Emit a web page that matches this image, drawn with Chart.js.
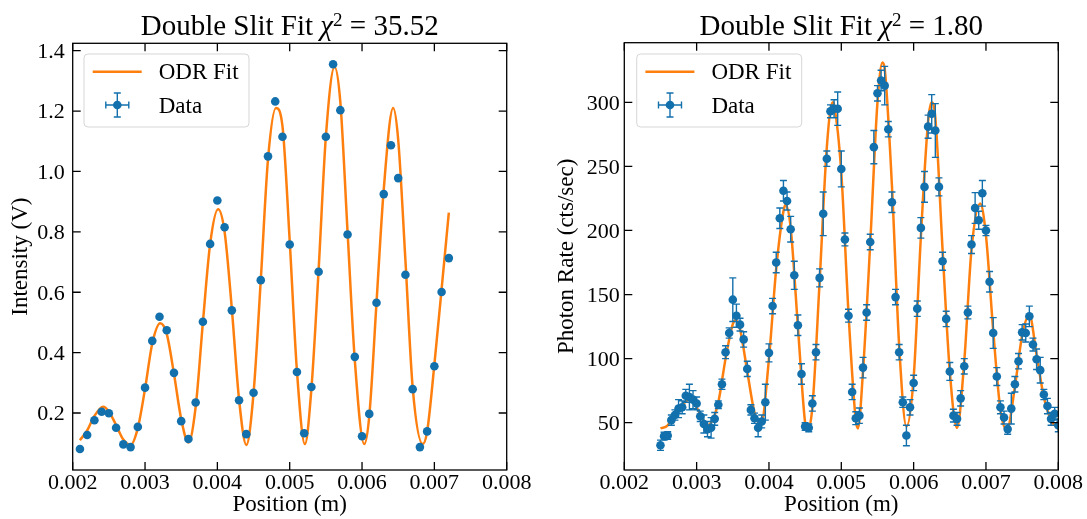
<!DOCTYPE html>
<html>
<head>
<meta charset="utf-8">
<script src="https://cdn.jsdelivr.net/npm/chart.js@4.4.1/dist/chart.umd.min.js"></script>
<style>
  html, body { margin: 0; padding: 0; background: #fff; }
  #wrap { position: relative; width: 1087px; height: 519px; }
  canvas { position: absolute; top: 0; }
</style>
</head>
<body>
<div id="wrap">
  <canvas id="leftChart" width="543" height="519" style="left:0px"></canvas>
  <canvas id="rightChart" width="544" height="519" style="left:543px"></canvas>
</div>
<script>
// ---- data ----
// left panel: intensity vs position
var leftX = [0.0021,0.0022,0.0023,0.0024,0.0025,0.0026,0.0027,0.0028,0.0029,0.0030,
  0.0031,0.0032,0.0033,0.0034,0.0035,0.0036,0.0037,0.0038,0.0039,0.0040,
  0.0041,0.0042,0.0043,0.0044,0.0045,0.0046,0.0047,0.0048,0.0049,0.0050,
  0.0051,0.0052,0.0053,0.0054,0.0055,0.0056,0.0057,0.0058,0.0059,0.0060,
  0.0061,0.0062,0.0063,0.0064,0.0065,0.0066,0.0067,0.0068,0.0069,0.0070,
  0.0071,0.0072];
var leftY = [0.081,0.127,0.176,0.204,0.199,0.151,0.096,0.087,0.154,0.284,
  0.439,0.519,0.474,0.333,0.173,0.114,0.235,0.502,0.760,0.904,
  0.815,0.540,0.242,0.130,0.267,0.640,1.050,1.232,1.115,0.758,
  0.336,0.133,0.286,0.668,1.115,1.355,1.203,0.791,0.386,0.123,
  0.197,0.565,0.925,1.087,0.978,0.658,0.279,0.087,0.139,0.355,
  0.601,0.713];
var leftFitX = [0.0021,0.0022,0.0023,0.00242,0.0025,0.0026,0.0027,0.0028,0.0029,0.0030,
  0.0031,0.00321,0.0033,0.0034,0.0035,0.0036,0.0037,0.0038,0.0039,0.00401,
  0.0041,0.0042,0.0043,0.0044,0.0045,0.0046,0.0047,0.00481,0.0049,0.0050,
  0.0051,0.00521,0.0053,0.0054,0.0055,0.00562,0.0057,0.0058,0.0059,0.00603,
  0.0061,0.0062,0.0063,0.00643,0.0065,0.0066,0.0067,0.00684,0.0069,0.0070,
  0.0071,0.0072];
var leftFitY = [0.110,0.142,0.190,0.221,0.205,0.160,0.112,0.094,0.150,0.280,
  0.430,0.497,0.462,0.330,0.180,0.102,0.220,0.500,0.760,0.875,
  0.800,0.545,0.245,0.094,0.265,0.640,1.040,1.210,1.150,0.770,
  0.340,0.097,0.280,0.675,1.115,1.346,1.230,0.800,0.375,0.097,
  0.190,0.565,0.940,1.210,1.105,0.705,0.285,0.097,0.139,0.360,
  0.610,0.864];

// right panel: photon rate vs position
var rightX = [0.00250,0.00255,0.00260,0.00265,0.00270,0.00275,0.00280,0.00285,0.00290,0.00295,
  0.00300,0.00305,0.00310,0.00315,0.00320,0.00325,0.00330,0.00335,0.00340,0.00345,
  0.00350,0.00355,0.00360,0.00365,0.00370,0.00375,0.00380,0.00385,0.00390,0.00395,
  0.00400,0.00405,0.00410,0.00415,0.00420,0.00425,0.00430,0.00435,0.00440,0.00445,
  0.00450,0.00455,0.00460,0.00465,0.00470,0.00475,0.00480,0.00485,0.00490,0.00495,
  0.00500,0.00505,0.00510,0.00515,0.00520,0.00525,0.00530,0.00535,0.00540,0.00545,
  0.00550,0.00555,0.00560,0.00565,0.00570,0.00575,0.00580,0.00585,0.00590,0.00595,
  0.00600,0.00605,0.00610,0.00615,0.00620,0.00625,0.00630,0.00635,0.00640,0.00645,
  0.00650,0.00655,0.00660,0.00665,0.00670,0.00675,0.00680,0.00685,0.00690,0.00695,
  0.00700,0.00705,0.00710,0.00715,0.00720,0.00725,0.00730,0.00735,0.00740,0.00745,
  0.00750,0.00755,0.00760,0.00765,0.00770,0.00775,0.00780,0.00785,0.00790,0.00795,
  0.00800];
var rightY = [32.4,39.5,40,52,56,61,62,71,70,68,
  65,55,49,45,46,53,64,80,105,120,
  146,133.5,126.5,115,92,60,53.5,46,51,66,
  104.5,141,175,209.5,231,223,201,165,126,88,
  47,46,65,105,163,213,256,293,295,295,
  248,193,133.5,74,53.5,55.5,93,136,191,265,
  307,317,313,279,222,148,105,66,40,62,
  81,139,202,234,281,291,278,234,176,131,
  90,55.5,53,69,94,136,189,217.5,208,229,
  200,160,120,86,62,54,45,61,80,98,
  120.5,120,133,111,99.5,91,72,63,53,57,
  48];
var rightErr = [4,3,3,4,4,7,5,5,10,7,
  5,4,7,6,8,5,3,4,5,4,
  17,9,5,6,6,4,4,7,5,14,
  7,6,8,8,8,7,10,11,8,8,
  3,3,6,6,7,17,6,5,7,13,
  14,5,5,6,5,6,8,6,6,13,
  6,8,15,6,8,6,6,4,8,6,
  6,6,8,12,9,15,21,7,7,6,
  7,5,5,6,6,5,7,12,7,10,
  4,8,12,7,5,5,4,12,6,6,
  6,7,8,5,8,10,4,6,5,5,
  5];
var rightFitX = [0.0025,0.0026,0.0027,0.0028,0.0029,0.0030,0.0031,0.00315,0.0032,0.0033,
  0.0034,0.0035,0.00354,0.0036,0.0037,0.0038,0.00389,0.0040,0.0041,0.0042,
  0.00423,0.0043,0.0044,0.0045,0.00453,0.0046,0.0047,0.0048,0.00488,0.0049,
  0.0050,0.0051,0.0052,0.00523,0.0053,0.0054,0.0055,0.00557,0.0056,0.0057,
  0.0058,0.0059,0.0060,0.0061,0.0062,0.00625,0.0063,0.0064,0.0065,0.0066,
  0.0067,0.0068,0.00692,0.0070,0.0071,0.0072,0.00729,0.0074,0.0075,0.0076,
  0.0077,0.0078,0.0079,0.0080];
var rightFitY = [45.5,48,57,64,68,62,51,48,50,66,
  100,127,130,123,90,58,48.5,100,170,215,
  220,202,125,50,45,62,160,265,300,298,
  245,135,52,45.5,90,190,300,331,326,235,
  110,47,85,195,285,300,288,185,90,46,
  98,185,221,196,122,60,44.5,78,118,134,
  103,70,52,45];

var leftChi2 = '35.52';
var rightChi2 = '1.80';

var SERIF = "'Liberation Serif', 'Times New Roman', serif";
var BLUE = '#1270ad';
var ORANGE = '#ff7f0e';
var TICK = 8;

Chart.defaults.font.family = SERIF;
Chart.defaults.color = '#000';

function toPoints(xs, ys) {
  return xs.map(function (x, i) { return {x: x, y: ys[i]}; });
}

// error bars on the scatter dataset, drawn just before its markers
var errorBars = {
  id: 'errorBars',
  beforeDatasetDraw: function (chart, args, opts) {
    if (args.index !== 0 || !opts.yErr) return;
    var ctx = chart.ctx, a = chart.chartArea;
    var xs = chart.scales.x, ys = chart.scales.y;
    var pts = chart.data.datasets[0].data;
    ctx.save();
    ctx.beginPath();
    ctx.rect(a.left, a.top, a.width, a.height);
    ctx.clip();
    ctx.strokeStyle = BLUE;
    ctx.lineWidth = 1.4;
    ctx.beginPath();
    pts.forEach(function (p, i) {
      var px = xs.getPixelForValue(p.x);
      var y1 = ys.getPixelForValue(p.y - opts.yErr[i]);
      var y2 = ys.getPixelForValue(p.y + opts.yErr[i]);
      ctx.moveTo(px, y1); ctx.lineTo(px, y2);
      ctx.moveTo(px - 3.5, y1); ctx.lineTo(px + 3.5, y1);
      ctx.moveTo(px - 3.5, y2); ctx.lineTo(px + 3.5, y2);
    });
    ctx.stroke();
    ctx.restore();
  }
};

// frame, inward ticks on all four sides, legend box and title
var decorations = {
  id: 'decorations',
  afterDraw: function (chart, args, opts) {
    var ctx = chart.ctx, a = chart.chartArea;
    var xs = chart.scales.x, ys = chart.scales.y;
    ctx.save();
    ctx.strokeStyle = '#000';
    ctx.lineWidth = 1.3;
    ctx.beginPath();
    xs.ticks.forEach(function (t) {
      var p = xs.getPixelForValue(t.value);
      ctx.moveTo(p, a.bottom); ctx.lineTo(p, a.bottom - TICK);
      ctx.moveTo(p, a.top); ctx.lineTo(p, a.top + TICK);
    });
    ys.ticks.forEach(function (t) {
      var p = ys.getPixelForValue(t.value);
      ctx.moveTo(a.left, p); ctx.lineTo(a.left + TICK, p);
      ctx.moveTo(a.right, p); ctx.lineTo(a.right - TICK, p);
    });
    ctx.stroke();
    ctx.strokeRect(a.left, a.top, a.width, a.height);

    // legend
    var bx = a.left + opts.legendDx, by = a.top + opts.legendDy, bw = 165, bh = 73;
    ctx.beginPath();
    ctx.roundRect(bx, by, bw, bh, 4);
    ctx.fillStyle = 'rgba(255,255,255,0.8)';
    ctx.fill();
    ctx.strokeStyle = 'rgba(204,204,204,0.8)';
    ctx.lineWidth = 1;
    ctx.stroke();

    ctx.strokeStyle = ORANGE;
    ctx.lineWidth = 2.5;
    ctx.beginPath();
    ctx.moveTo(bx + 8.7, by + 17.7); ctx.lineTo(bx + 57.7, by + 17.7);
    ctx.stroke();

    var mx = bx + 33.3, my = by + 51;
    ctx.strokeStyle = BLUE;
    ctx.lineWidth = 1.4;
    ctx.beginPath();
    ctx.moveTo(mx - 11.5, my); ctx.lineTo(mx + 11.5, my);
    ctx.moveTo(mx, my - 12); ctx.lineTo(mx, my + 12);
    ctx.moveTo(mx - 3.5, my - 12); ctx.lineTo(mx + 3.5, my - 12);
    ctx.moveTo(mx - 3.5, my + 12); ctx.lineTo(mx + 3.5, my + 12);
    ctx.moveTo(mx - 11.5, my - 3.5); ctx.lineTo(mx - 11.5, my + 3.5);
    ctx.moveTo(mx + 11.5, my - 3.5); ctx.lineTo(mx + 11.5, my + 3.5);
    ctx.stroke();
    ctx.fillStyle = BLUE;
    ctx.beginPath();
    ctx.arc(mx, my, 4.3, 0, Math.PI * 2);
    ctx.fill();

    ctx.fillStyle = '#000';
    ctx.font = '23px ' + SERIF;
    ctx.textBaseline = 'alphabetic';
    ctx.textAlign = 'left';
    ctx.fillText('ODR Fit', bx + 74.7, by + 25.3);
    ctx.fillText('Data', bx + 74.7, by + 58.7);

    // title with chi^2
    var parts = [
      {text: 'Double Slit Fit ', font: '29px ' + SERIF, dy: 0},
      {text: '\u03c7', font: 'italic 29px ' + SERIF, dy: 0},
      {text: '2', font: '19px ' + SERIF, dy: -9},
      {text: ' = ' + opts.chi2, font: '29px ' + SERIF, dy: 0}
    ];
    var w = 0;
    parts.forEach(function (p) { ctx.font = p.font; p.w = ctx.measureText(p.text).width; w += p.w; });
    var tx = (a.left + a.right) / 2 - w / 2;
    parts.forEach(function (p) { ctx.font = p.font; ctx.fillText(p.text, tx, 35 + p.dy); tx += p.w; });
    ctx.restore();
  }
};

function makeChart(id, cfg) {
  return new Chart(document.getElementById(id), {
    type: 'scatter',
    data: {
      datasets: [{
        label: 'Data',
        data: toPoints(cfg.x, cfg.y),
        pointRadius: 4.3,
        pointBackgroundColor: BLUE,
        pointBorderWidth: 0,
        clip: 0
      }, {
        type: 'line',
        label: 'ODR Fit',
        data: toPoints(cfg.fitX, cfg.fitY),
        borderColor: ORANGE,
        borderWidth: 2.5,
        pointRadius: 0,
        fill: false,
        cubicInterpolationMode: 'monotone',
        clip: 0
      }]
    },
    plugins: [errorBars, decorations],
    options: {
      responsive: false,
      animation: false,
      events: [],
      layout: {padding: {top: cfg.top, right: cfg.right, left: 0, bottom: 0}},
      plugins: {
        legend: {display: false},
        tooltip: {enabled: false},
        errorBars: {yErr: cfg.yErr},
        decorations: {chi2: cfg.chi2, legendDx: cfg.legendDx, legendDy: cfg.legendDy}
      },
      scales: {
        x: {
          type: 'linear',
          min: 0.002,
          max: 0.008,
          grid: {display: false, drawTicks: false},
          border: {display: false},
          ticks: {
            stepSize: 0.001,
            padding: 0,
            font: {size: 22},
            callback: function (v) { return v.toFixed(3); }
          },
          title: {display: true, text: 'Position (m)', font: {size: 23}, padding: {top: 0, bottom: 0}},
          afterFit: function (s) { s.height = 49; }
        },
        y: {
          min: cfg.yMin,
          max: cfg.yMax,
          grid: {display: false, drawTicks: false},
          border: {display: false},
          ticks: {
            stepSize: cfg.yStep,
            includeBounds: false,
            padding: cfg.yPad,
            labelOffset: 1.5,
            font: {size: 22},
            callback: cfg.yFmt
          },
          title: {display: true, text: cfg.yTitle, font: {size: 23}, padding: {top: cfg.yTitlePad, bottom: 0}},
          afterFit: function (s) { s.width = cfg.yWidth; }
        }
      }
    }
  });
}

var leftChart = makeChart('leftChart', {
  x: leftX, y: leftY, fitX: leftFitX, fitY: leftFitY, yErr: null,
  chi2: leftChi2, top: 43.3, right: 36.3, yWidth: 72.7,
  yMin: 0.0112, yMax: 1.4245, yStep: 0.2, yPad: 8,
  yFmt: function (v) { return v.toFixed(1); },
  yTitle: 'Intensity (V)', yTitlePad: 6.7, legendDx: 11.3, legendDy: 10.7
});

var rightChart = makeChart('rightChart', {
  x: rightX, y: rightY, fitX: rightFitX, fitY: rightFitY, yErr: rightErr,
  chi2: rightChi2, top: 42.7, right: 28.7, yWidth: 81.3,
  yMin: 13.1, yMax: 346.5, yStep: 50, yPad: 4.5,
  yFmt: function (v) { return String(Math.round(v)); },
  yTitle: 'Photon Rate (cts/sec)', yTitlePad: 10.5, legendDx: 12.4, legendDy: 11.3
});
</script>
</body>
</html>
